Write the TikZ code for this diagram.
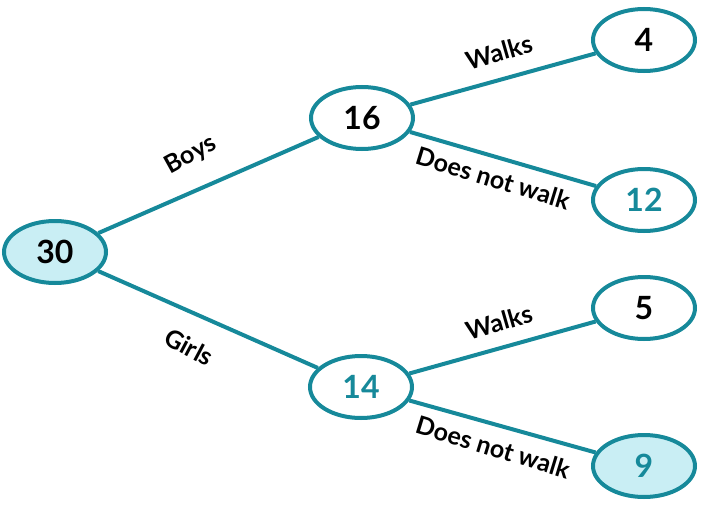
\documentclass[tikz,border=0pt]{standalone}
\usepackage{fontspec}
\setmainfont{Lato}
\usetikzlibrary{shapes.geometric}
\definecolor{teal1}{HTML}{16899A}
\definecolor{lfill}{HTML}{C9EEF4}
\begin{document}
\begin{tikzpicture}[x=1pt,y=-1pt,
  nd/.style={ellipse,draw=teal1,line width=4pt,minimum width=102pt,minimum height=62pt,inner sep=0pt,font=\bfseries\fontsize{32}{34}\selectfont},
  ed/.style={draw=teal1,line width=4pt},
  lb/.style={font=\bfseries\fontsize{25}{27}\selectfont}]
\useasboundingbox (0,0) rectangle (702,506);
\node[nd,fill=lfill] (a) at (55,252) {30};
\node[nd,fill=white] (b) at (362,118) {16};
\node[nd,fill=white,text=teal1] (c) at (361,387) {14};
\node[nd,fill=white] (d) at (644,40) {4};
\node[nd,fill=white,text=teal1] (e) at (644,200) {12};
\node[nd,fill=white] (f) at (644,308) {5};
\node[nd,fill=lfill,text=teal1] (g) at (644,466) {9};
\draw[ed] (a) -- (b);
\draw[ed] (a) -- (c);
\draw[ed] (b) -- (d);
\draw[ed] (b) -- (e);
\draw[ed] (c) -- (f);
\draw[ed] (c) -- (g);
\node[lb,rotate=29] (l1) at (191,155) {Boys};
\node[lb,rotate=-28] (l2) at (189,347) {Girls};
\node[lb,rotate=16] (l3) at (499,52) {Walks};
\node[lb,rotate=-17] (l4) at (493,178) {Does not walk};
\node[lb,rotate=16] (l5) at (499,322) {Walks};
\node[lb,rotate=-17] (l6) at (493,447) {Does not walk};
\end{tikzpicture}
\end{document}
